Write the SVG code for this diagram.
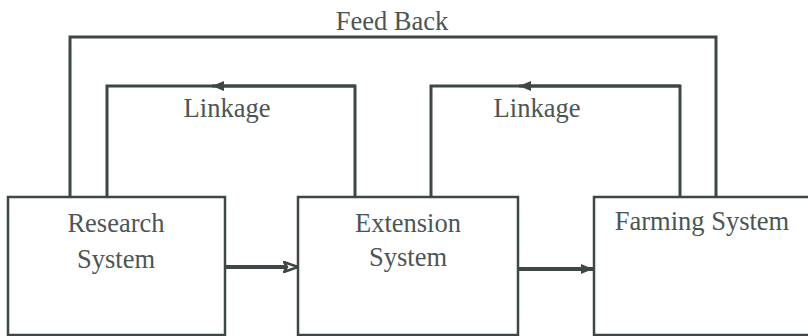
<svg xmlns="http://www.w3.org/2000/svg" width="808" height="336" viewBox="0 0 808 336">
<style>
.box{fill:#fff;stroke:#3d4846;stroke-width:2.5}
.ln{fill:none;stroke:#3d4846;stroke-width:3}
.thick{stroke-width:4}
.t{font-family:"Liberation Serif","Times New Roman",serif;font-size:26.5px;fill:#4a5654;text-anchor:middle}
</style>
<defs>
<marker id="fh" markerWidth="12" markerHeight="10" refX="12" refY="5" orient="auto" markerUnits="userSpaceOnUse">
<path d="M0,0 L12,5 L0,10 Z" fill="#3d4846"/>
</marker>
<marker id="oh" markerWidth="16" markerHeight="12" refX="15" refY="6" orient="auto" markerUnits="userSpaceOnUse">
<path d="M1,1 L15,6 L1,11 L4,6 Z" fill="#fff" stroke="#3d4846" stroke-width="2.5"/>
</marker>
</defs>
<rect width="808" height="336" fill="#fff"/>
<g id="connectors">
<path class="ln" d="M70,197 V37 H716 V197"/>
<path class="ln" d="M355,197 V86 H107 V197"/>
<path class="ln" d="M355,86 H212" marker-end="url(#fh)"/>
<path class="ln" d="M680,197 V86 H431 V197"/>
<path class="ln" d="M680,86 H519" marker-end="url(#fh)"/>
<path class="ln thick" d="M225,267 H298" marker-end="url(#oh)"/>
<path class="ln thick" d="M518,269 H593" marker-end="url(#fh)"/>
<text class="t" x="392" y="30">Feed Back</text>
<text class="t" x="227" y="117">Linkage</text>
<text class="t" x="537" y="117">Linkage</text>
</g>
<g id="research">
<rect class="box" x="8" y="197" width="217" height="138"/>
<text class="t" x="116" y="232">Research</text>
<text class="t" x="116" y="268">System</text>
</g>
<g id="extension">
<rect class="box" x="298" y="197" width="220" height="138"/>
<text class="t" x="408" y="232">Extension</text>
<text class="t" x="408" y="266">System</text>
</g>
<g id="farming">
<rect class="box" x="594" y="197" width="220" height="138"/>
<text class="t" x="702" y="230">Farming System</text>
</g>
</svg>
